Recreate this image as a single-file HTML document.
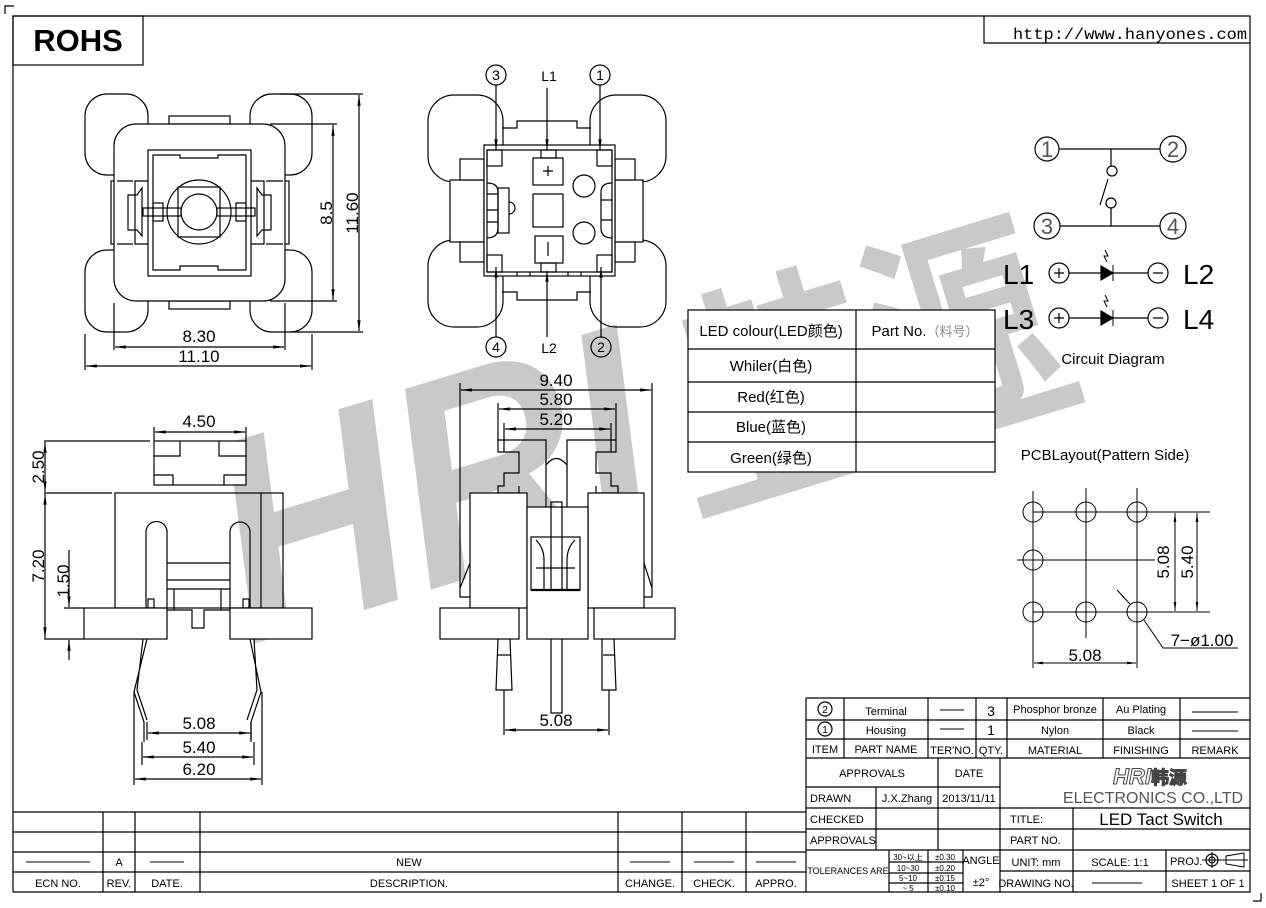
<!DOCTYPE html>
<html><head><meta charset="utf-8"><style>
html,body{margin:0;padding:0;background:#fff;}
svg{display:block;}
text{font-family:"Liberation Sans","Noto Sans CJK SC",sans-serif;fill:#000;}
</style></head><body>
<svg width="1266" height="908" viewBox="0 0 1266 908" xmlns="http://www.w3.org/2000/svg">
<defs>
<marker id="a" viewBox="0 0 10 10" refX="10" refY="5" markerWidth="9" markerHeight="9" orient="auto-start-reverse"><path d="M0,3.5L10,5L0,6.5z" fill="#000"/></marker>
</defs>
<rect width="1266" height="908" fill="#fff"/>

<!-- watermark -->
<g transform="translate(250,645) rotate(-17)">
<text x="0" y="0" font-size="290" font-weight="bold" font-style="italic" style="fill:#c9c9c9;font-family:'Liberation Sans',sans-serif" textLength="440" lengthAdjust="spacingAndGlyphs">HRI</text>
<text x="500" y="-25" font-size="210" font-weight="bold" style="fill:#c9c9c9;font-family:'Noto Sans CJK SC',sans-serif" textLength="360" lengthAdjust="spacingAndGlyphs">韩源</text>
<rect x="470" y="-10" width="400" height="22" fill="#c9c9c9"/>
</g>

<g fill="none" stroke="#000" stroke-width="1.2">
<path d="M5,14V6H14"/><path d="M1261,893V901H1253"/>
<path d="M13,892V16H1250V892H13"/>
<rect x="13" y="16" width="130" height="49"/>
<path d="M984,16V43H1250"/>

<!-- TOP VIEW LEFT -->
<rect x="85" y="94" width="63" height="81" rx="22"/>
<rect x="250" y="94" width="62" height="81" rx="22"/>
<rect x="85" y="250" width="63" height="82" rx="22"/>
<rect x="250" y="250" width="62" height="82" rx="22"/>
<rect x="169" y="116" width="61" height="8"/>
<rect x="169" y="301" width="61" height="8"/>
<rect x="111" y="181" width="6" height="63" fill="#fff"/>
<rect x="283" y="181" width="6" height="63" fill="#fff"/>
<rect x="114" y="124" width="171" height="177" rx="22" fill="#fff"/>
<path d="M117,181H133M117,244H133M266,181H283M266,244H283"/>
<rect x="148" y="150" width="103" height="126"/>
<path d="M153,270V155H180V158H218V155H246V270H218V266H180V270Z"/>
<path d="M148,181H135V244H148M251,181H264V244H251"/>
<path d="M128,195H137L142,188V236L137,230H128ZM271,195H262L257,188V236L262,230H271Z"/>
<circle cx="199" cy="212" r="32"/>
<rect x="178" y="187" width="42" height="50"/>
<circle cx="199" cy="212" r="18"/>
<rect x="143" y="208" width="38" height="8"/>
<rect x="217" y="208" width="38" height="8"/>
<rect x="153" y="203" width="10" height="18"/><rect x="236" y="203" width="10" height="18"/>
<path d="M280,94H363M290,332H363M270,124H337M270,301H337M114,303V350M285,303V350M85,334V370M312,334V370"/>
<path d="M359,95V331" marker-start="url(#a)" marker-end="url(#a)"/>
<path d="M333,125V300" marker-start="url(#a)" marker-end="url(#a)"/>
<path d="M115,347H284" marker-start="url(#a)" marker-end="url(#a)"/>
<path d="M86,366H311" marker-start="url(#a)" marker-end="url(#a)"/>

<!-- FRONT TOP VIEW -->
<rect x="428" y="95" width="75" height="87" rx="26"/>
<rect x="590" y="95" width="76" height="87" rx="26"/>
<rect x="428" y="240" width="75" height="87" rx="26"/>
<rect x="590" y="240" width="76" height="87" rx="26"/>
<path d="M502,128H517V121H577V128H591" fill="#fff"/>
<path d="M502,292H517V300H577V292H591" fill="#fff"/>
<rect x="450" y="180" width="34" height="62" fill="#fff"/>
<rect x="615" y="180" width="28" height="62" fill="#fff"/>
<rect x="460" y="159" width="24" height="21" fill="#fff"/>
<rect x="460" y="242" width="24" height="20" fill="#fff"/>
<rect x="615" y="159" width="20" height="21" fill="#fff"/>
<rect x="615" y="242" width="20" height="20" fill="#fff"/>
<rect x="484" y="145" width="131" height="131" fill="#fff"/>
<rect x="487" y="150" width="125" height="122"/>
<rect x="487" y="150" width="15" height="16"/><rect x="597" y="150" width="15" height="16"/>
<rect x="487" y="255" width="15" height="17"/><rect x="597" y="255" width="15" height="17"/>
<path d="M487,183Q498,183 498,192V228Q498,238 487,238M612,183Q601,183 601,192V228Q601,238 612,238"/>
<path d="M498,194H487M498,210H487M498,222H487M601,200H612M601,220H612"/>
<rect x="498" y="188" width="11" height="45"/>
<path d="M509,202A6,6 0 0 1 509,214"/>
<rect x="541" y="150" width="15" height="8"/>
<rect x="533" y="158" width="30" height="27"/>
<rect x="533" y="194" width="30" height="33"/>
<rect x="535" y="236" width="28" height="27"/>
<rect x="541" y="263" width="15" height="9"/>
<path d="M517,272V276M530,272V276M568,272V276M581,272V276"/>
<circle cx="584" cy="186" r="11"/><circle cx="584" cy="233" r="11"/>
<path d="M548,166V176M543,171H553M548,242V256"/>
<circle cx="496" cy="75" r="10"/><circle cx="600" cy="75" r="10"/>
<circle cx="496" cy="347" r="10"/><circle cx="601" cy="347" r="10"/>
<path d="M496,85V150" marker-end="url(#a)"/>
<path d="M600,85V150" marker-end="url(#a)"/>
<path d="M547,88V150" marker-end="url(#a)"/>
<path d="M496,337V267" marker-end="url(#a)"/>
<path d="M547,337V271" marker-end="url(#a)"/>
<path d="M601,337V267" marker-end="url(#a)"/>

<!-- SIDE VIEW -->
<rect x="154" y="441" width="92" height="44" fill="#fff"/>
<path d="M154,456H180V441M154,475H173V485M246,456H219V441M246,475H224V485"/>
<rect x="115" y="493" width="168" height="115"/>
<path d="M261,493V608"/>
<path d="M146,608V532A10,10 0 0 1 167,532V608M230,608V532A10,10 0 0 1 250,532V608"/>
<path d="M167,563H230M167,580H230M167,589H230"/>
<path d="M174,589V610H167M174,610H192V628H204V610H221V589M221,610H230"/>
<rect x="148" y="599" width="6" height="9"/><rect x="243" y="599" width="6" height="9"/>
<rect x="84" y="608" width="83" height="31" fill="#fff"/>
<rect x="230" y="608" width="82" height="31" fill="#fff"/>
<path d="M147,639L134,692L144,722L144,742M143,639L137,690L147,720M250,639L261,692L251,722L251,742M254,639L257,690L247,720"/>
<path d="M44,441H150M44,493H112M44,639H84M64,608H84"/>
<path d="M45,442V492" marker-start="url(#a)" marker-end="url(#a)"/>
<path d="M45,494V638" marker-start="url(#a)" marker-end="url(#a)"/>
<path d="M69,550V607" marker-end="url(#a)"/>
<path d="M69,660V640" marker-end="url(#a)"/>
<path d="M154,427V441M246,427V441"/>
<path d="M155,432H245" marker-start="url(#a)" marker-end="url(#a)"/>
<path d="M134,692V785M262,692V785M142,742V765M254,742V765M147,722V740M251,722V740"/>
<path d="M148,733H250" marker-start="url(#a)" marker-end="url(#a)"/>
<path d="M143,757H253" marker-start="url(#a)" marker-end="url(#a)"/>
<path d="M135,779H261" marker-start="url(#a)" marker-end="url(#a)"/>

<!-- FRONT VIEW -->
<path d="M498,493V486H504V473H519V452H498V440H546V507M496,493H519V486M618,493V486H611V473H596V452H616V440H567V507M618,493H596V486"/>
<path d="M546,465Q556,452 567,465"/>
<rect x="470" y="493" width="57" height="115" fill="#fff"/>
<rect x="588" y="493" width="56" height="115" fill="#fff"/>
<rect x="527" y="507" width="61" height="132" fill="#fff"/>
<path d="M460,588L470,563M460,588V597H470M652,588L644,563M652,588V597H644"/>
<rect x="531" y="537" width="49" height="53"/>
<path d="M531,590H580" stroke-width="2.2"/>
<rect x="551" y="502" width="11" height="88"/>
<path d="M536,540Q544,548 544,560V590M575,540Q567,548 567,560V590M536,568H575"/>
<rect x="440" y="608" width="79" height="31" fill="#fff"/>
<rect x="594" y="608" width="81" height="31" fill="#fff"/>
<path d="M498,639L496,690H512L510,639M497,655H511M551,639V713H562V639M602,639L602,690H616L614,639M603,655H615"/>
<path d="M460,383V588M652,383V588M498,403V440M616,403V440M504,423V452M611,423V452M504,690V735M609,690V735"/>
<path d="M461,390H651" marker-start="url(#a)" marker-end="url(#a)"/>
<path d="M499,409H615" marker-start="url(#a)" marker-end="url(#a)"/>
<path d="M505,429H610" marker-start="url(#a)" marker-end="url(#a)"/>
<path d="M505,730H608" marker-start="url(#a)" marker-end="url(#a)"/>

<!-- LED TABLE -->
<rect x="688" y="310" width="307" height="162" fill="#fff"/>
<path d="M688,349H995M688,382H995M688,412H995M688,442H995M856,310V472"/>

<!-- CIRCUIT -->
<circle cx="1047" cy="149" r="12"/><circle cx="1173" cy="149" r="13"/>
<circle cx="1047" cy="226" r="13"/><circle cx="1173" cy="226" r="13"/>
<path d="M1059,149H1160M1060,226H1160M1111,149V166M1111,208V226M1100,205L1108,179"/>
<circle cx="1112" cy="171" r="5"/><circle cx="1111" cy="203" r="5"/>
<circle cx="1059" cy="273" r="10"/><circle cx="1158" cy="273" r="10"/>
<circle cx="1059" cy="318" r="10"/><circle cx="1158" cy="318" r="10"/>
<path d="M1069,273H1148M1069,318H1148M1054,273H1064M1059,268V278M1153,273H1163M1054,318H1064M1059,313V323M1153,318H1163"/>
<path d="M1101,266L1113,273L1101,280Z M1101,311L1113,318L1101,325Z" fill="#000"/>
<path d="M1113,265V281M1113,310V326M1107,262L1104,256H1108L1105,250M1107,307L1104,301H1108L1105,295" stroke-width="1"/>

<!-- PCB -->
<g stroke-width="1">
<circle cx="1033" cy="512" r="10"/><circle cx="1086" cy="512" r="10"/><circle cx="1137" cy="512" r="10"/>
<circle cx="1033" cy="560" r="10"/>
<circle cx="1033" cy="612" r="10"/><circle cx="1086" cy="612" r="10"/><circle cx="1137" cy="612" r="10"/>
<path d="M1033,491V668M1086,488V638M1137,488V668M1033,512H1210M1017,560H1155M1033,612H1210"/>
<path d="M1175,513V611" marker-start="url(#a)" marker-end="url(#a)"/>
<path d="M1197,513V611" marker-start="url(#a)" marker-end="url(#a)"/>
<path d="M1034,663H1136" marker-start="url(#a)" marker-end="url(#a)"/>
<path d="M1117,590L1130,604M1144,620L1163,648H1238"/>
</g>

<!-- REVISION TABLE -->
<path d="M13,812H806M13,832H806M13,852H806M13,872H806M103,812V892M135,812V892M200,812V892M618,812V892M682,812V892M746,812V892M806,698V892"/>
<path d="M26,862H90M150,862H184M630,862H670M694,862H734M756,862H796" stroke-width="1"/>

<!-- TITLE BLOCK -->
<path d="M806,698H1250M806,720H1250M806,739H1250M806,758H1250M844,698V758M928,698V758M976,698V758M1007,698V758M1103,698V758M1180,698V758"/>
<path d="M806,787H1000M806,808H1250M806,829H1250M806,850H1250M876,787V850M938,758V850M1000,758V892M1073,808V892M1000,871H1250M1166,850V892M963,850V892M889,850V892M928,850V892M889,862H963M889,873H963M889,883H963"/>
<path d="M940,710H964M940,729H964M1192,712H1238M1192,731H1238M1092,883H1142" stroke-width="1"/>
<circle cx="825" cy="709" r="7"/><circle cx="825" cy="729" r="7"/>
<circle cx="1212" cy="860" r="6"/><circle cx="1212" cy="860" r="3"/>
<path d="M1202,860H1248M1212,852V868M1226,856L1244,853V867L1226,864Z" stroke-width="1"/>
</g>

<!-- TEXT -->
<text x="78" y="51" font-size="31" font-weight="bold" text-anchor="middle">ROHS</text>
<text x="1013" y="39" font-size="16" textLength="234" lengthAdjust="spacingAndGlyphs" style="font-family:'Liberation Mono',monospace">http://www.hanyones.com</text>

<g font-size="17" text-anchor="middle">
<text x="326" y="213" transform="rotate(-90 326 213)" dy="6">8.5</text>
<text x="352" y="213" transform="rotate(-90 352 213)" dy="6">11.60</text>
<text x="199" y="342">8.30</text>
<text x="199" y="362">11.10</text>
<text x="199" y="427">4.50</text>
<text x="38" y="467" transform="rotate(-90 38 467)" dy="6">2.50</text>
<text x="38" y="566" transform="rotate(-90 38 566)" dy="6">7.20</text>
<text x="63" y="581" transform="rotate(-90 63 581)" dy="6">1.50</text>
<text x="199" y="729">5.08</text>
<text x="199" y="753">5.40</text>
<text x="199" y="775">6.20</text>
<text x="556" y="386">9.40</text>
<text x="556" y="405">5.80</text>
<text x="556" y="425">5.20</text>
<text x="556" y="726">5.08</text>
<text x="1163" y="562" transform="rotate(-90 1163 562)" dy="6">5.08</text>
<text x="1187" y="562" transform="rotate(-90 1187 562)" dy="6">5.40</text>
<text x="1085" y="661">5.08</text>
<text x="1202" y="646">7−ø1.00</text>
</g>
<g font-size="14" text-anchor="middle">
<text x="496" y="80">3</text><text x="600" y="80">1</text>
<text x="496" y="352">4</text><text x="601" y="352">2</text>
<text x="549" y="81">L1</text><text x="549" y="353">L2</text>
</g>
<g font-size="15" text-anchor="middle">
<text x="771" y="336">LED colour(LED颜色)</text>
<text x="925" y="336">Part No.<tspan fill="#888" font-size="13">（料号）</tspan></text>
<text x="771" y="371">Whiler(白色)</text>
<text x="771" y="402">Red(红色)</text>
<text x="771" y="432">Blue(蓝色)</text>
<text x="771" y="463">Green(绿色)</text>
<text x="1113" y="364">Circuit Diagram</text>
<text x="1105" y="460">PCBLayout(Pattern Side)</text>
</g>
<g font-size="22" text-anchor="middle">
<text x="1047" y="157" style="fill:#555">1</text><text x="1173" y="157" style="fill:#555">2</text>
<text x="1047" y="234" style="fill:#555">3</text><text x="1173" y="234" style="fill:#555">4</text>
</g>
<g font-size="28">
<text x="1003" y="284">L1</text><text x="1183" y="284">L2</text>
<text x="1003" y="329">L3</text><text x="1183" y="329">L4</text>
</g>

<g font-size="11" text-anchor="middle">
<text x="58" y="887">ECN NO.</text><text x="119" y="887">REV.</text><text x="167" y="887">DATE.</text>
<text x="409" y="887">DESCRIPTION.</text><text x="650" y="887">CHANGE.</text><text x="714" y="887">CHECK.</text><text x="776" y="887">APPRO.</text>
<text x="119" y="866">A</text><text x="409" y="866">NEW</text>
<text x="825" y="713" font-size="10">2</text><text x="825" y="733" font-size="10">1</text>
<text x="886" y="715">Terminal</text><text x="886" y="734">Housing</text>
<text x="991" y="716" font-size="14">3</text><text x="991" y="735" font-size="14">1</text>
<text x="1055" y="713">Phosphor bronze</text><text x="1055" y="734">Nylon</text>
<text x="1141" y="713">Au Plating</text><text x="1141" y="734">Black</text>
<text x="825" y="753">ITEM</text><text x="886" y="753">PART NAME</text><text x="952" y="754">TER'NO.</text>
<text x="991" y="754">QTY.</text><text x="1055" y="754">MATERIAL</text><text x="1141" y="754">FINISHING</text><text x="1215" y="754">REMARK</text>
<text x="872" y="777">APPROVALS</text><text x="969" y="777">DATE</text>
<text x="907" y="802">J.X.Zhang</text><text x="969" y="802">2013/11/11</text>
<text x="1036" y="866">UNIT: mm</text><text x="1120" y="866">SCALE:  1:1</text>
<text x="1036" y="887">DRAWING NO.</text><text x="1208" y="887">SHEET  1 OF 1</text>
<text x="981" y="864">ANGLE</text><text x="981" y="886">±2°</text>
<text x="848" y="874" font-size="9">TOLERANCES ARE</text>
<text x="908" y="860" font-size="8">30~以上</text><text x="908" y="871" font-size="8">10~30</text>
<text x="908" y="881" font-size="8">5~10</text><text x="908" y="891" font-size="8">~ 5</text>
<text x="945" y="860" font-size="8">±0.30</text><text x="945" y="871" font-size="8">±0.20</text>
<text x="945" y="881" font-size="8">±0.15</text><text x="945" y="891" font-size="8">±0.10</text>
</g>
<g font-size="11">
<text x="810" y="802">DRAWN</text><text x="810" y="823">CHECKED</text><text x="810" y="844">APPROVALS</text>
<text x="1010" y="823">TITLE:</text><text x="1010" y="844">PART NO.</text>
<text x="1170" y="865">PROJ.</text>
</g>
<text x="1161" y="825" font-size="17" text-anchor="middle">LED Tact Switch</text>
<text x="1150" y="784" font-size="22" font-weight="bold" font-style="italic" text-anchor="middle" style="fill:#fff;stroke:#444;stroke-width:1">HRI<tspan style="fill:#444;font-family:'Noto Sans CJK SC',sans-serif;font-style:normal;font-size:18px">韩源</tspan></text>
<text x="1153" y="803" font-size="16" text-anchor="middle" style="fill:#555">ELECTRONICS CO.,LTD</text>
</svg>
</body></html>
